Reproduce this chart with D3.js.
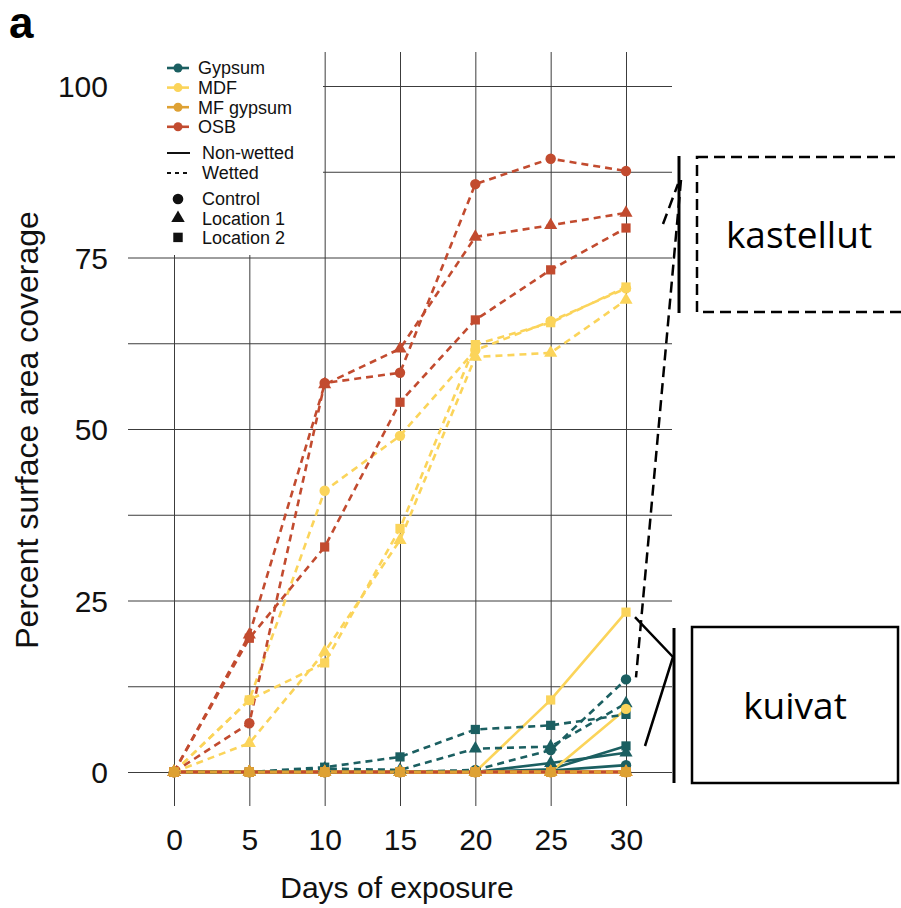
<!doctype html>
<html>
<head>
<meta charset="UTF-8">
<script src="https://cdnjs.cloudflare.com/ajax/libs/d3/7.8.5/d3.min.js"></script>
<style>
  body { margin: 0; background: #fff; }
  svg text { font-family: "Liberation Sans", Arial, Helvetica, sans-serif; }
</style>
</head>
<body>
<svg id="chart" width="901" height="908"></svg>
<script>
// ---- data ----
var days = [0, 5, 10, 15, 20, 25, 30];
var yTicks = [0, 12.5, 25, 37.5, 50, 62.5, 75, 87.5, 100];
var yLabels = [0, 25, 50, 75, 100];

var materials = ["Gypsum", "MDF", "MF gypsum", "OSB"];
var materialColors = ["#1b5f61", "#fbd45a", "#dea133", "#c24b2f"];
var conditions = ["Non-wetted", "Wetted"];
var locations = ["Control", "Location 1", "Location 2"];

// Gypsum
var gypsumDryControl = [0, 0, 0, 0, 0, 0.2, 1.0];
var gypsumDryLoc1    = [0, 0, 0, 0, 0, 1.3, 2.8];
var gypsumDryLoc2    = [0, 0, 0, 0, 0, 0.4, 3.8];
var gypsumWetControl = [0, 0, 0, 0, 0.3, 3.2, 13.5];
var gypsumWetLoc1    = [0, 0, 0.5, 0.3, 3.4, 3.7, 10.0];
var gypsumWetLoc2    = [0, 0, 0.7, 2.2, 6.2, 6.8, 8.4];
// MDF
var mdfDryControl = [0, 0, 0, 0, 0, 0, 9.2];
var mdfDryLoc1    = [0, 0, 0, 0, 0, 0, 0];
var mdfDryLoc2    = [0, 0, 0, 0, 0, 10.5, 23.3];
var mdfWetControl = [0, 10.5, 41.0, 49.0, 61.5, 65.7, 70.5];
var mdfWetLoc1    = [0, 4.2, 17.5, 33.8, 60.5, 61.1, 68.8];
var mdfWetLoc2    = [0, 10.5, 15.9, 35.5, 62.3, 65.5, 70.7];
// MF gypsum
var mfDryControl = [0, 0, 0, 0, 0, 0, 0];
var mfDryLoc1    = [0, 0, 0, 0, 0, 0, 0];
var mfDryLoc2    = [0, 0, 0, 0, 0, 0, 0];
var mfWetControl = [0, 0, 0, 0, 0, 0, 0];
var mfWetLoc1    = [0, 0, 0, 0, 0, 0, 0];
var mfWetLoc2    = [0, 0, 0, 0, 0, 0, 0];
// OSB
var osbDryControl = [0, 0, 0, 0, 0, 0, 0];
var osbDryLoc1    = [0, 0, 0, 0, 0, 0, 0];
var osbDryLoc2    = [0, 0, 0, 0, 0, 0, 0];
var osbWetControl = [0, 7.1, 56.7, 58.2, 85.7, 89.4, 87.6];
var osbWetLoc1    = [0, 20.0, 56.5, 61.7, 78.0, 79.7, 81.5];
var osbWetLoc2    = [0, 19.5, 32.8, 53.9, 65.9, 73.2, 79.3];

var seriesValues = {
  "Gypsum":    [[gypsumDryControl, gypsumDryLoc1, gypsumDryLoc2], [gypsumWetControl, gypsumWetLoc1, gypsumWetLoc2]],
  "MDF":       [[mdfDryControl, mdfDryLoc1, mdfDryLoc2], [mdfWetControl, mdfWetLoc1, mdfWetLoc2]],
  "MF gypsum": [[mfDryControl, mfDryLoc1, mfDryLoc2], [mfWetControl, mfWetLoc1, mfWetLoc2]],
  "OSB":       [[osbDryControl, osbDryLoc1, osbDryLoc2], [osbWetControl, osbWetLoc1, osbWetLoc2]]
};

var series = [];
conditions.forEach(function(c, ci) {
  materials.forEach(function(m) {
    locations.forEach(function(l, li) {
      series.push({material: m, condition: c, location: l,
        values: seriesValues[m][ci][li].map(function(v, i) { return {day: days[i], v: v}; })});
    });
  });
});

// ---- layout ----
var panel = {left: 128, right: 672, top: 52, bottom: 806};
var x = d3.scaleLinear().domain([0, 30]).range([174, 626]);
var y = d3.scaleLinear().domain([0, 100]).range([772, 86]);
var color = d3.scaleOrdinal().domain(materials).range(materialColors);
var shape = d3.scaleOrdinal().domain(locations).range([d3.symbolCircle, d3.symbolTriangle, d3.symbolSquare]);
var shapeSize = d3.scaleOrdinal().domain(locations).range([85, 75, 85]);

var svg = d3.select("#chart");

// panel label
svg.append("text").attr("x", 9).attr("y", 38)
  .style("font-size", "44px").style("font-weight", "bold").text("a");

// grid via axes
var xAxis = d3.axisBottom(x).tickValues(days).tickSizeInner(-(panel.bottom - panel.top)).tickSizeOuter(0).tickPadding(23);
var gx = svg.append("g").attr("transform", "translate(0," + panel.bottom + ")").call(xAxis);

var yAxis = d3.axisLeft(y).tickValues(yTicks).tickSizeInner(-(panel.right - panel.left)).tickSizeOuter(0).tickPadding(20)
  .tickFormat(function(d) { return yLabels.indexOf(d) >= 0 ? d : ""; });
var gy = svg.append("g").attr("transform", "translate(" + panel.left + ",0)").call(yAxis);

[gx, gy].forEach(function(g) {
  g.select(".domain").remove();
  g.selectAll("line").attr("stroke", "#3c3c3c").attr("stroke-width", 1);
  g.selectAll("text").attr("fill", "#111").style("font-size", "30px");
});
gy.selectAll("text").attr("dy", "0.35em");

// axis titles
svg.append("text").attr("x", 397).attr("y", 898).attr("text-anchor", "middle")
  .style("font-size", "30px").attr("fill", "#111").text("Days of exposure");
svg.append("text").attr("text-anchor", "middle")
  .attr("transform", "translate(38,430) rotate(-90)")
  .style("font-size", "32px").attr("fill", "#111").text("Percent surface area coverage");

// legend background
var lg = svg.append("g");
lg.append("rect").attr("x", panel.left).attr("y", panel.top).attr("width", 195).attr("height", 203).attr("fill", "#fff");

// ---- lines then points ----
var line = d3.line().x(function(d) { return x(d.day); }).y(function(d) { return y(d.v); });

svg.append("g").selectAll("path").data(series).enter().append("path")
  .attr("d", function(d) { return line(d.values); })
  .attr("fill", "none")
  .attr("stroke", function(d) { return color(d.material); })
  .attr("stroke-width", 2.6)
  .attr("stroke-dasharray", function(d) { return d.condition === "Wetted" ? "7,5" : null; });

var pointOrder = ["Gypsum", "MDF", "OSB", "MF gypsum"];
var pointSeries = series.slice().sort(function(a, b) {
  return pointOrder.indexOf(a.material) - pointOrder.indexOf(b.material);
});
var pts = [];
pointSeries.forEach(function(s) {
  s.values.forEach(function(p) { pts.push({material: s.material, location: s.location, day: p.day, v: p.v}); });
});
svg.append("g").selectAll("path").data(pts).enter().append("path")
  .attr("transform", function(d) { return "translate(" + x(d.day) + "," + y(d.v) + ")"; })
  .attr("d", function(d) { return d3.symbol().type(shape(d.location)).size(shapeSize(d.location))(); })
  .attr("fill", function(d) { return color(d.material); });

// ---- legend ----
var legFont = "18px";
materials.forEach(function(m, i) {
  var yy = 68 + i * 19.6;
  lg.append("line").attr("x1", 167).attr("x2", 189).attr("y1", yy).attr("y2", yy)
    .attr("stroke", color(m)).attr("stroke-width", 2.6);
  lg.append("circle").attr("cx", 178).attr("cy", yy).attr("r", 4.5).attr("fill", color(m));
  lg.append("text").attr("x", 198).attr("y", yy).attr("dy", "0.35em").style("font-size", legFont).attr("fill", "#111").text(m);
});
conditions.forEach(function(c, i) {
  var yy = 153 + i * 20;
  lg.append("line").attr("x1", 167).attr("x2", 190).attr("y1", yy).attr("y2", yy)
    .attr("stroke", "#111").attr("stroke-width", 2)
    .attr("stroke-dasharray", c === "Wetted" ? "4,4" : null);
  lg.append("text").attr("x", 202).attr("y", yy).attr("dy", "0.35em").style("font-size", legFont).attr("fill", "#111").text(c);
});
locations.forEach(function(l, i) {
  var yy = 199 + i * 19.2;
  lg.append("path").attr("transform", "translate(178," + yy + ")")
    .attr("d", d3.symbol().type(shape(l)).size(shapeSize(l) * 1.05)()).attr("fill", "#111");
  lg.append("text").attr("x", 202).attr("y", yy).attr("dy", "0.35em").style("font-size", legFont).attr("fill", "#111").text(l);
});

// ---- annotations ----
var ann = svg.append("g").attr("stroke", "#000").attr("fill", "none");
// wetted group
ann.append("rect").attr("x", 697).attr("y", 157).attr("width", 220).attr("height", 155)
  .attr("stroke-width", 2.5).attr("stroke-dasharray", "11,6");
ann.append("line").attr("x1", 679).attr("x2", 679).attr("y1", 156).attr("y2", 313).attr("stroke-width", 3);
ann.append("line").attr("x1", 681).attr("y1", 180).attr("x2", x(30) + 10).attr("y2", y(13.5) - 2)
  .attr("stroke-width", 2.5).attr("stroke-dasharray", "11,6");
ann.append("line").attr("x1", 663).attr("y1", 224).attr("x2", 678).attr("y2", 184)
  .attr("stroke-width", 2.5).attr("stroke-dasharray", "11,6");
// dry group
ann.append("rect").attr("x", 692).attr("y", 627).attr("width", 206).attr("height", 156).attr("stroke-width", 2.5);
ann.append("line").attr("x1", 674).attr("x2", 674).attr("y1", 628).attr("y2", 783).attr("stroke-width", 3);
ann.append("polyline")
  .attr("points", [[x(30) + 9, y(23.3) + 5], [673, 657], [645, 746]].map(function(p) { return p.join(","); }).join(" "))
  .attr("stroke-width", 2.5);

svg.append("text").attr("x", 799).attr("y", 248).attr("text-anchor", "middle")
  .style("font-family", "'Open Sans', sans-serif").style("font-size", "37px").attr("fill", "#000").text("kastellut");
svg.append("text").attr("x", 795).attr("y", 719).attr("text-anchor", "middle")
  .style("font-family", "'Open Sans', sans-serif").style("font-size", "37px").attr("fill", "#000").text("kuivat");
</script>
</body>
</html>
